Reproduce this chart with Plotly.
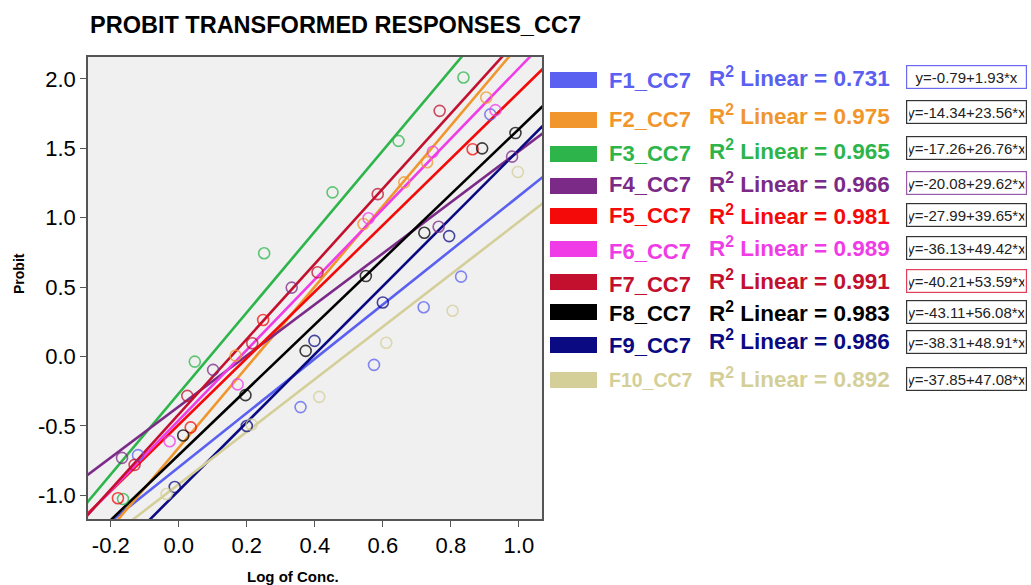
import plotly.graph_objects as go

# ---------------- data ----------------
series = ["F1_CC7", "F2_CC7", "F3_CC7", "F4_CC7", "F5_CC7",
          "F6_CC7", "F7_CC7", "F8_CC7", "F9_CC7", "F10_CC7"]
r2_values = [0.731, 0.975, 0.965, 0.966, 0.981, 0.989, 0.991, 0.983, 0.986, 0.892]
equations = ["y=-0.79+1.93*x", "y=-14.34+23.56*x", "y=-17.26+26.76*x",
             "y=-20.08+29.62*x", "y=-27.99+39.65*x", "y=-36.13+49.42*x",
             "y=-40.21+53.59*x", "y=-43.11+56.08*x", "y=-38.31+48.91*x",
             "y=-37.85+47.08*x"]
# fitted lines as drawn in the plot (intercept, slope in plotted units)
fit_intercept = [-0.797, -0.656, -0.265, -0.360, -0.490, -0.458, -0.415, -0.708, -0.965, -0.919]
fit_slope = [1.953, 2.900, 2.915, 1.839, 2.394, 2.535, 2.708, 2.347, 2.454, 1.890]

x_F1 = [-0.120, 0.358, 0.574, 0.720, 0.830, 0.916]
y_F1 = [-0.710, -0.364, -0.060, 0.355, 0.576, 1.745]
x_F2 = [0.167, 0.543, 0.663, 0.730, 0.904]
y_F2 = [0.007, 0.955, 1.255, 1.400, 1.866]
x_F3 = [-0.164, 0.047, 0.251, 0.452, 0.646, 0.837]
y_F3 = [-1.026, -0.036, 0.744, 1.183, 1.554, 2.010]
x_F4 = [-0.167, 0.101, 0.332, 0.764, 0.980]
y_F4 = [-0.730, -0.096, 0.497, 0.935, 1.440]
x_F5 = [-0.179, 0.035, 0.248, 0.864]
y_F5 = [-1.020, -0.510, 0.264, 1.494]
x_F6 = [-0.027, 0.173, 0.558, 0.747, 0.931]
y_F6 = [-0.610, -0.200, 0.996, 1.475, 1.775]
x_F7 = [-0.130, 0.025, 0.216, 0.408, 0.585, 0.767]
y_F7 = [-0.780, -0.283, 0.096, 0.607, 1.170, 1.770]
x_F8 = [0.013, 0.196, 0.373, 0.550, 0.722, 0.892, 0.990]
y_F8 = [-0.568, -0.278, 0.041, 0.580, 0.892, 1.500, 1.610]
x_F9 = [-0.012, 0.200, 0.399, 0.600, 0.795]
y_F9 = [-0.940, -0.500, 0.113, 0.390, 0.868]
x_F10 = [-0.036, 0.214, 0.413, 0.610, 0.805, 0.997]
y_F10 = [-0.990, -0.490, -0.290, 0.100, 0.330, 1.330]

x_points = [x_F1, x_F2, x_F3, x_F4, x_F5, x_F6, x_F7, x_F8, x_F9, x_F10]
y_points = [y_F1, y_F2, y_F3, y_F4, y_F5, y_F6, y_F7, y_F8, y_F9, y_F10]

x_tick_vals = [-0.2, 0.0, 0.2, 0.4, 0.6, 0.8, 1.0]
x_tick_text = ["-0.2", "0.0", "0.2", "0.4", "0.6", "0.8", "1.0"]
y_tick_vals = [-1.0, -0.5, 0.0, 0.5, 1.0, 1.5, 2.0]
y_tick_text = ["-1.0", "-0.5", "0.0", "0.5", "1.0", "1.5", "2.0"]

# ---------------- styles ----------------
colors = ["#5a60f0", "#f0962d", "#2db54b", "#7b2a88", "#f50a0a",
          "#f03ce6", "#c3102e", "#000000", "#0a0a82", "#d4cf98"]
box_border = ["#6a6af0", "#333333", "#333333", "#9a5aaa", "#333333",
              "#333333", "#e0405a", "#333333", "#333333", "#333333"]
FONT = "Arial, Liberation Sans, sans-serif"

W, H = 1031, 585
PL, PR, PT, PB = 88, 542, 57, 519  # plot area in pixels
XR = [-0.267, 1.068]
YR = [-1.17, 2.158]


def px(xp):
    return (xp - PL) / (PR - PL)


def py(yp):
    return (PB - yp) / (PB - PT)


fig = go.Figure()

# fitted lines
for i in range(len(series)):
    xs = [XR[0] - 0.05, XR[1] + 0.05]
    ys = [fit_intercept[i] + fit_slope[i] * v for v in xs]
    fig.add_trace(go.Scatter(x=xs, y=ys, mode="lines",
                             line=dict(color=colors[i], width=2.6),
                             showlegend=False, hoverinfo="skip"))

# observed points
for i in range(len(series)):
    fig.add_trace(go.Scatter(x=x_points[i], y=y_points[i], mode="markers",
                             marker=dict(symbol="circle-open", size=11,
                                         color=colors[i], opacity=0.75,
                                         line=dict(width=1.6, color=colors[i])),
                             name=series[i], showlegend=False))

# legend rows (pixel y centres)
swatch_y = [80, 120, 154, 186, 216, 249, 282, 312, 345, 380]
label_y = [80, 119, 153, 184, 216, 251, 284, 313, 345, 380]
r2_y = [77, 115, 150, 183, 215, 247, 280, 312, 340, 378]
box_y = [77, 112, 148, 183, 215, 248, 281, 312, 342, 379]

shapes = []
annotations = []
for i in range(len(series)):
    shapes.append(dict(type="rect", xref="paper", yref="paper",
                       x0=px(550), x1=px(597), y0=py(swatch_y[i] + 8), y1=py(swatch_y[i] - 8),
                       fillcolor=colors[i], line=dict(width=0)))
    label_size = 22 if len(series[i]) <= 6 else 19.5
    annotations.append(dict(xref="paper", yref="paper", x=px(607), y=py(label_y[i]),
                            xanchor="left", yanchor="middle", showarrow=False,
                            text="<b>%s</b>" % series[i],
                            font=dict(family=FONT, size=label_size, color=colors[i])))
    annotations.append(dict(xref="paper", yref="paper", x=px(707), y=py(r2_y[i]),
                            xanchor="left", yanchor="middle", showarrow=False,
                            text="<b>R<sup>2</sup> Linear = %.3f</b>" % r2_values[i],
                            font=dict(family=FONT, size=22.5, color=colors[i])))
    annotations.append(dict(xref="paper", yref="paper", x=px(966), y=py(box_y[i]),
                            xanchor="center", yanchor="middle", showarrow=False,
                            text=equations[i], width=115, height=18,
                            bordercolor=box_border[i], borderwidth=1.2, borderpad=2,
                            bgcolor="white",
                            font=dict(family=FONT, size=15, color="#222222")))

# titles
annotations.append(dict(xref="paper", yref="paper", x=px(88), y=py(25),
                        xanchor="left", yanchor="middle", showarrow=False,
                        text="<b>PROBIT TRANSFORMED RESPONSES_CC7</b>",
                        font=dict(family=FONT, size=23.5, color="black")))
annotations.append(dict(xref="paper", yref="paper", x=px(293), y=py(576),
                        xanchor="center", yanchor="middle", showarrow=False,
                        text="<b>Log of Conc.</b>",
                        font=dict(family=FONT, size=15, color="black")))
annotations.append(dict(xref="paper", yref="paper", x=px(19), y=py(274),
                        xanchor="center", yanchor="middle", showarrow=False,
                        text="<b>Probit</b>", textangle=-90,
                        font=dict(family=FONT, size=14, color="black")))

fig.update_layout(
    width=W, height=H,
    margin=dict(l=PL, r=W - PR, t=PT, b=H - PB),
    paper_bgcolor="white", plot_bgcolor="#f0f0f0",
    shapes=shapes, annotations=annotations,
    showlegend=False,
)
fig.update_xaxes(range=XR, tickvals=x_tick_vals, ticktext=x_tick_text,
                 showgrid=False, zeroline=False, showline=True, mirror=True,
                 linecolor="#555555", linewidth=1.5, ticks="outside", ticklen=6,
                 tickcolor="#555555", tickfont=dict(family=FONT, size=22, color="black"))
fig.update_yaxes(range=YR, tickvals=y_tick_vals, ticktext=y_tick_text,
                 showgrid=False, zeroline=False, showline=True, mirror=True,
                 linecolor="#555555", linewidth=1.5, ticks="outside", ticklen=6,
                 tickcolor="#555555", tickfont=dict(family=FONT, size=22, color="black"))

fig.write_html("out.html", config={"displayModeBar": False},
               post_script="document.body.style.margin='0';document.body.style.padding='0';")
